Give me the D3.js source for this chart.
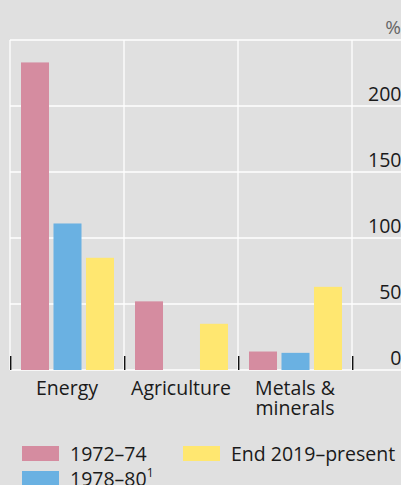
<!DOCTYPE html>
<html><head><meta charset="utf-8">
<script src="https://cdn.jsdelivr.net/npm/d3@7"></script>
<style>
html,body{margin:0;padding:0;background:#e0e0e0;}
svg{display:block;font-family:"Open Sans",sans-serif;}
</style></head>
<body>
<svg id="c" width="401" height="485"></svg>
<script>
const categories = ["Energy", "Agriculture", "Metals & minerals"];
const categoryLines = [["Energy"], ["Agriculture"], ["Metals &", "minerals"]];
const seriesNames = ["1972–74", "1978–80", "End 2019–present"];
const s1972 = [233, 52, 14];
const s1978 = [111, null, 13];
const s2019 = [85, 35, 63];
const yTicks = [0, 50, 100, 150, 200, 250];
const yTickLabels = ["0", "50", "100", "150", "200", ""];
const colors = ["#d58ca0", "#6ab1e2", "#ffe770"];

const svg = d3.select("#c");
const W = 401;
const x = d3.scaleBand().domain(categories).range([10, 352]).padding(0);
const xs = d3.scaleBand().domain(seriesNames).range([11, 104]).paddingInner(0.138).paddingOuter(0);
const y = d3.scaleLinear().domain([0, 250]).range([370, 40]);

// partially visible title at top (cropped in the reference)
svg.append("text").attr("x", 13).attr("y", -0.6).attr("fill", "#8a8a8a")
  .style("font-size", "19px").text("Cumulative rise in real terms");

// unit
svg.append("text").attr("x", W).attr("y", 34).attr("text-anchor", "end")
  .attr("fill", "#666").style("font-size", "19px").text("%");

// horizontal grid
svg.append("g").selectAll("line").data(yTicks).join("line")
  .attr("x1", 10).attr("x2", W).attr("y1", d => y(d)).attr("y2", d => y(d))
  .attr("stroke", "#fff").attr("stroke-width", 1.3);
// vertical grid
const bounds = categories.map(c => x(c)).concat([x.range()[1]]);
svg.append("g").selectAll("line").data(bounds).join("line")
  .attr("x1", d => d).attr("x2", d => d).attr("y1", y(250)).attr("y2", y(0))
  .attr("stroke", "#fff").attr("stroke-width", 1.3);

// bars
const series = [s1972, s1978, s2019];
series.forEach((vals, si) => {
  svg.append("g").selectAll("rect").data(vals.map((v, i) => ({v, c: categories[i]})).filter(d => d.v != null))
    .join("rect")
    .attr("x", d => x(d.c) + xs(seriesNames[si]))
    .attr("width", xs.bandwidth())
    .attr("y", d => y(d.v))
    .attr("height", d => y(0) - y(d.v))
    .attr("fill", colors[si]);
});

// category tick marks
svg.append("g").selectAll("line").data(bounds).join("line")
  .attr("x1", d => d + 0.7).attr("x2", d => d + 0.7).attr("y1", y(0) - 14).attr("y2", y(0))
  .attr("stroke", "#111").attr("stroke-width", 1.4);

// y tick labels
svg.append("g").selectAll("text").data(yTicks).join("text")
  .attr("x", W + 0.5).attr("y", d => y(d) - 5).attr("text-anchor", "end")
  .attr("fill", "#1a1a1a").style("font-size", "19.5px")
  .text((d, i) => yTickLabels[i]);

// category labels (one text element per line)
categories.forEach((c, i) => {
  categoryLines[i].forEach((ln, j) => {
    svg.append("text").attr("x", x(c) + x.bandwidth() / 2).attr("y", 395 + j * 20)
      .attr("text-anchor", "middle").attr("fill", "#1a1a1a").style("font-size", "19.5px")
      .text(ln);
  });
});

// legend
const legendPos = [{x: 22, y: 446}, {x: 22, y: 471}, {x: 183, y: 446}];
seriesNames.forEach((s, i) => {
  const p = legendPos[i];
  svg.append("rect").attr("x", p.x).attr("y", p.y).attr("width", 37).attr("height", 15).attr("fill", colors[i]);
  const t = svg.append("text").attr("x", p.x + 48).attr("y", p.y + 15)
    .attr("fill", "#1a1a1a").style("font-size", "19.5px").text(s);
  if (i === 1) {
    t.append("tspan").attr("dy", -9).style("font-size", "12px").text("1");
  }
});
</script>
</body></html>
